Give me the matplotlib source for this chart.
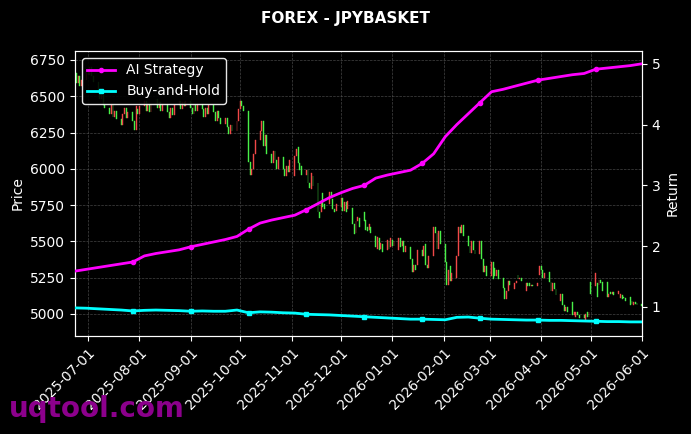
import numpy as np
import pandas as pd
import matplotlib
matplotlib.use('Agg')
import matplotlib.pyplot as plt
import matplotlib.dates as mdates

# Dane -----------------------------------------------------------------------------------------------------------------
dates = pd.bdate_range('2025-06-23', '2026-06-01')

opens = [
    6620, 6660, 6590, 6640, 6570,  6610, 6680, 6650, 6700, 6640,  6600, 6540, 6480, 6510, 6440,
    6420, 6380, 6440, 6360, 6400,  6340, 6300, 6380, 6420, 6350,  6390, 6330, 6270, 6410, 6380,
    6430, 6470, 6400, 6450, 6390,  6440, 6480, 6420, 6460, 6400,  6450, 6390, 6350, 6420, 6370,
    6440, 6470, 6410, 6460, 6430,  6470, 6420, 6380, 6440, 6400,  6450, 6410, 6360, 6420, 6380,
    6440, 6390, 6330, 6400, 6350,  6310, 6350, 6290, 6240, 6300,  6260, 6330, 6410, 6470, 6430,
    6400, 6050, 5960, 6000, 6100,  6200, 6260, 6330, 6160, 6230,  6100, 6040, 6120, 6060, 6000,
    6080, 6000, 5950, 6020, 5980,  5950, 6090, 6150, 6040, 6020,  5960, 5990, 5900, 5860, 5950,
    5900, 5700, 5700, 5830, 5760,  5760, 5840, 5790, 5720, 5710,  5740, 5800, 5710, 5770, 5720,
    5730, 5620, 5560, 5640, 5660,  5700, 5650, 5600, 5580, 5600,  5540, 5450, 5520, 5450, 5480,
    5440, 5500, 5460, 5510, 5470,  5440, 5520, 5470, 5500, 5430,  5460, 5380, 5290, 5340, 5340,
    5440, 5400, 5480, 5340, 5320,  5400, 5600, 5560, 5450, 5570,  5480, 5360, 5200, 5330, 5230,
    5250, 5400, 5600, 5560, 5610,  5540, 5470, 5420, 5500, 5440,  5410, 5500, 5380, 5290, 5330,
    5260, 5360, 5320, 5260, 5300,  5250, 5180, 5100, 5160, 5230,  5170, 5210, 5270, 5240, 5250,
    5160, 5215, 5210, 5190, 5200,  5190, 5270, 5330, 5300, 5250,  5290, 5220, 5160, 5210, 5170,
    5090, 5140, 5060, 5020, 5050,  5080, 4990, 4980, 5010, 4990,  4990, 4960, 5010, 4980, 5220,
    5190, 5210, 5200, 5235, 5220,  5220, 5120, 5150, 5140, 5150,  5135, 5110, 5130, 5120, 5110,
    5115, 5090, 5065, 5080, 5075,  5070,
]
closes = [
    6660, 6590, 6640, 6570, 6610,  6680, 6650, 6700, 6640, 6600,  6540, 6480, 6510, 6440, 6420,
    6380, 6440, 6360, 6400, 6340,  6300, 6380, 6420, 6350, 6390,  6330, 6270, 6430, 6380, 6430,
    6470, 6400, 6450, 6390, 6440,  6480, 6420, 6460, 6400, 6450,  6390, 6350, 6420, 6370, 6440,
    6470, 6410, 6460, 6430, 6470,  6420, 6380, 6440, 6400, 6450,  6410, 6360, 6420, 6380, 6440,
    6390, 6330, 6400, 6350, 6310,  6350, 6290, 6240, 6300, 6260,  6330, 6410, 6470, 6430, 6400,
    6050, 5960, 6000, 6100, 6200,  6260, 6330, 6160, 6230, 6100,  6040, 6120, 6060, 6000, 6080,
    6000, 5950, 6020, 5980, 6060,  6090, 6140, 6040, 5990, 5960,  5990, 5900, 5870, 5970, 5880,
    5700, 5660, 5780, 5740, 5720,  5840, 5800, 5720, 5700, 5760,  5800, 5710, 5770, 5700, 5780,
    5620, 5550, 5640, 5670, 5600,  5640, 5580, 5570, 5620, 5560,  5460, 5530, 5440, 5490, 5430,
    5510, 5450, 5520, 5470, 5500,  5520, 5460, 5500, 5430, 5470,  5380, 5290, 5340, 5300, 5440,
    5400, 5470, 5340, 5320, 5400,  5600, 5560, 5450, 5570, 5480,  5360, 5200, 5300, 5230, 5280,
    5400, 5600, 5560, 5610, 5540,  5470, 5420, 5500, 5440, 5410,  5500, 5380, 5290, 5330, 5260,
    5360, 5240, 5260, 5300, 5240,  5180, 5100, 5160, 5230, 5200,  5210, 5230, 5240, 5250, 5225,
    5215, 5190, 5190, 5200, 5195,  5210, 5330, 5300, 5250, 5280,  5220, 5160, 5210, 5170, 5130,
    5140, 5060, 5020, 5050, 5010,  4990, 5010, 5010, 4990, 4975,  4970, 5000, 4980, 5010, 5140,
    5280, 5120, 5235, 5215, 5160,  5120, 5140, 5135, 5150, 5130,  5160, 5140, 5100, 5110, 5090,
    5065, 5070, 5080, 5070, 5060,  5055,
]

# krzywe zwrotu (co tydzień)
ret_dates = pd.date_range('2025-06-23', '2026-06-01', freq='7D')
ai_strategy = [1.59, 1.62, 1.65, 1.68, 1.71, 1.74, 1.84, 1.88, 1.91, 1.94,
               1.99, 2.03, 2.07, 2.11, 2.16, 2.28, 2.38, 2.43, 2.47, 2.51,
               2.60, 2.70, 2.80, 2.88, 2.95, 3.00, 3.12, 3.17, 3.21, 3.25,
               3.36, 3.52, 3.80, 4.00, 4.18, 4.36, 4.54, 4.58, 4.63, 4.68,
               4.73, 4.76, 4.79, 4.82, 4.84, 4.91, 4.93, 4.95, 4.97, 5.00]
buy_hold = [0.985, 0.98, 0.97, 0.96, 0.95, 0.935, 0.945, 0.95, 0.945, 0.94,
            0.93, 0.935, 0.93, 0.93, 0.95, 0.905, 0.92, 0.915, 0.905, 0.90,
            0.88, 0.875, 0.87, 0.86, 0.85, 0.84, 0.83, 0.82, 0.81, 0.80,
            0.80, 0.795, 0.79, 0.83, 0.835, 0.815, 0.80, 0.795, 0.79, 0.785,
            0.785, 0.78, 0.78, 0.775, 0.77, 0.765, 0.76, 0.76, 0.755, 0.755]

# Wykres ---------------------------------------------------------------------------------------------------------------
fig = plt.figure(figsize=(6.91, 4.34), dpi=100, facecolor='black')
ax = fig.add_axes([0.1085, 0.2258, 0.8205, 0.6567])
ax.set_facecolor('black')

o = np.array(opens, dtype=float)
c = np.array(closes, dtype=float)
kolory = np.where(c >= o, '#f04848', '#48f048')
ax.bar(dates, c - o, bottom=o, width=0.55, color=kolory, edgecolor=kolory, linewidth=0.3, zorder=2)

ax.set_ylim(4848, 6812)
ax.set_yticks([5000, 5250, 5500, 5750, 6000, 6250, 6500, 6750])
ax.set_xlim(dates[0], dates[-1])
ax.xaxis.set_major_locator(mdates.MonthLocator())
ax.xaxis.set_major_formatter(mdates.DateFormatter('%Y-%m-%d'))
plt.setp(ax.get_xticklabels(), rotation=45, ha='right', rotation_mode='anchor')
ax.grid(True, color='#555555', linestyle='--', linewidth=0.5, alpha=0.8)
ax.set_ylabel('Price', color='white')

ax2 = ax.twinx()
ax2.plot(ret_dates, ai_strategy, color='#ff00ff', lw=2, marker='o', markersize=3,
         markevery=slice(5, None, 5), label='AI Strategy', zorder=3)
ax2.plot(ret_dates, buy_hold, color='#00ffff', lw=2, marker='s', markersize=3,
         markevery=slice(5, None, 5), label='Buy-and-Hold', zorder=3)
ax2.set_ylim(0.523, 5.21)
ax2.set_yticks([1, 2, 3, 4, 5])
ax2.set_ylabel('Return', color='white')

for a in (ax, ax2):
    a.tick_params(colors='white', labelsize=10)
    for s in a.spines.values():
        s.set_color('white')

leg = ax2.legend(loc='upper left', facecolor='black', edgecolor='white', fontsize=10, framealpha=0.9)
for t in leg.get_texts():
    t.set_color('white')

fig.suptitle('FOREX - JPYBASKET', color='white', fontsize=11, fontweight='bold', y=0.975)
fig.text(0.013, 0.058, 'uqtool.com', color='#8c008c', fontsize=20, fontweight='bold', va='center', ha='left')

fig.savefig('out.png', dpi=100, facecolor='black')
